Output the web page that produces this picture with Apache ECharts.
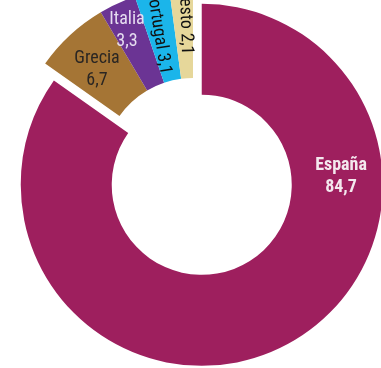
<!DOCTYPE html>
<html>
<head>
<meta charset="utf-8">
<script src="https://cdn.jsdelivr.net/npm/echarts@6/dist/echarts.min.js"></script>
<style>
html,body{margin:0;padding:0;background:#fff;}
#c{width:381px;height:368px;}
</style>
</head>
<body>
<div id="c"></div>
<script>
// Data
const categories = ['España', 'Grecia', 'Italia', 'Portugal', 'Resto'];
const values = [84.7, 6.7, 3.3, 3.1, 2.1];
const colors = ['#9E1F5E', '#A57535', '#6B3494', '#1BB5EA', '#E6D79A'];

// label placement / styling (not data)
const labelConf = [
  {x: 341,   y: 176,  rot: 0,   color: '#f4e8ee', weight: 'bold',   oneLine: false},
  {x: 97,    y: 69,   rot: 0,   color: '#2a2623', weight: 'normal', oneLine: false},
  {x: 127,   y: 30,   rot: 0,   color: '#e6ddf0', weight: 'normal', oneLine: false},
  {x: 158.5, y: 32,   rot: -81, color: '#111111', weight: 'normal', oneLine: true},
  {x: 185.5, y: 21.5, rot: -88, color: '#111111', weight: 'normal', oneLine: true}
];

const FONT = '"Liberation Sans Narrow", "Roboto Condensed", Roboto, sans-serif';
const fmt = v => String(v).replace('.', ',');

const data = categories.map((name, i) => ({
  name: name,
  value: values[i],
  selected: i === 0,
  itemStyle: {color: colors[i]}
}));

const labels = categories.map((name, i) => {
  const lc = labelConf[i];
  return {
    type: 'text',
    x: lc.x,
    y: lc.y,
    rotation: lc.rot * Math.PI / 180,
    z: 100,
    style: {
      text: lc.oneLine ? (name + ' ' + fmt(values[i])) : (name + '\n' + fmt(values[i])),
      fill: lc.color,
      font: lc.weight + ' 18px ' + FONT,
      lineHeight: 22,
      align: 'center',
      verticalAlign: 'middle',
      textAlign: 'center',
      textVerticalAlign: 'middle'
    }
  };
});

const chart = echarts.init(document.getElementById('c'), null, {renderer: 'canvas'});
chart.setOption({
  animation: false,
  series: [{
    type: 'pie',
    center: [193, 168],
    radius: [90, 181],
    startAngle: 90,
    clockwise: true,
    selectedMode: 'single',
    selectedOffset: 19,
    emphasis: {disabled: true},
    itemStyle: {borderWidth: 0},
    label: {show: false},
    labelLine: {show: false},
    data: data
  }],
  graphic: {elements: labels}
});
</script>
</body>
</html>
